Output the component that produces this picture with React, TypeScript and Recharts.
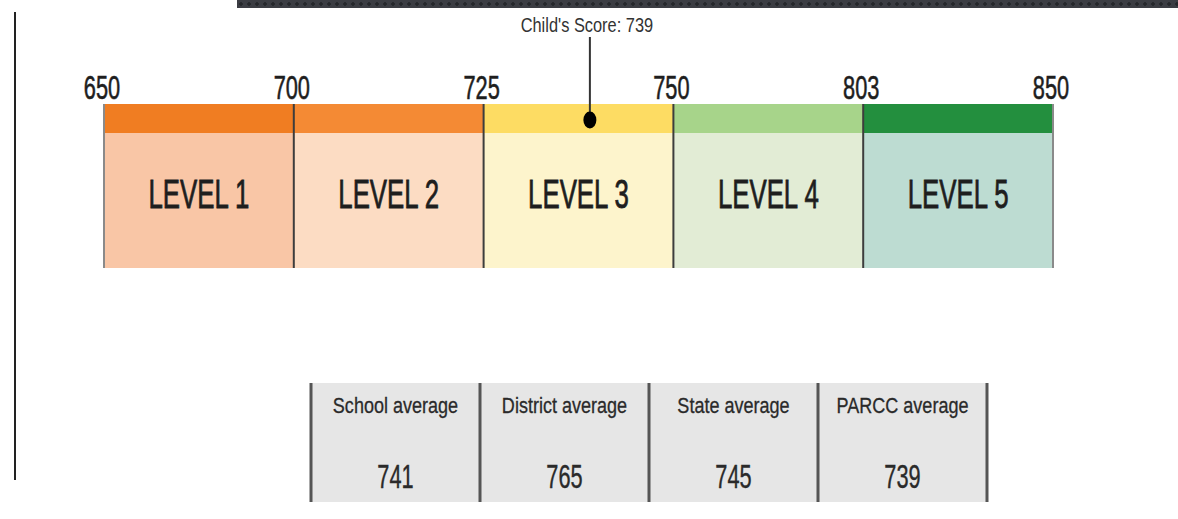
import { BarChart, Bar, XAxis, YAxis, ReferenceLine } from 'recharts';

// cut scores bounding each performance level (drawn as equal-width bands)
const cutScores = [650, 700, 725, 750, 803, 850];
const levelNames = ['LEVEL 1', 'LEVEL 2', 'LEVEL 3', 'LEVEL 4', 'LEVEL 5'];
const childScore = 739;

const averageLabels = ['School average', 'District average', 'State average', 'PARCC average'];
const averageValues = [741, 765, 745, 739];

const stripColors = ['#f07d22', '#f48a34', '#fddc63', '#a7d48a', '#238f3e'];
const bodyColors = ['#f9c6a6', '#fcdcc3', '#fdf4cc', '#e2ecd5', '#bddcd2'];

const FONT = '"Liberation Sans", Arial, sans-serif';

// each level takes one unit on the axis, so a score maps piecewise into its band
function bandPos(score: number) {
  for (let i = 0; i < cutScores.length - 1; i++) {
    if (score <= cutScores[i + 1]) {
      return i + (score - cutScores[i]) / (cutScores[i + 1] - cutScores[i]);
    }
  }
  return cutScores.length - 1;
}

const row: Record<string, string | number> = { name: 'scale' };
levelNames.forEach((_, i) => {
  row[`level${i}`] = 1;
});
const data = [row];

function SqueezedText({ x, y, size, sx, children, fill = '#1e1e1e', weight = 0 }: any) {
  return (
    <text
      transform={`translate(${x} ${y}) scale(${sx} 1)`}
      textAnchor="middle"
      fontFamily={FONT}
      fontSize={size}
      fill={fill}
      stroke={weight ? fill : 'none'}
      strokeWidth={weight}
    >
      {children}
    </text>
  );
}

function LevelShape(props: any) {
  const { x, y, width, height, level } = props;
  return (
    <g>
      <rect x={x} y={y} width={width} height={height} fill={bodyColors[level]} />
      <rect x={x} y={y} width={width} height={29} fill={stripColors[level]} />
      <SqueezedText x={x + width / 2} y={y + 104} size={40} sx={0.645} weight={0.8}>
        {levelNames[level]}
      </SqueezedText>
    </g>
  );
}

function CutLine(props: any) {
  const { x1, y1, y2, idx } = props;
  const top = Math.min(y1, y2);
  const bottom = Math.max(y1, y2);
  const edge = idx === 0 || idx === cutScores.length - 1;
  return (
    <g>
      <line x1={x1} x2={x1} y1={top} y2={bottom} stroke={edge ? '#8a8a8a' : '#3d3d3d'} strokeWidth={2} />
      <SqueezedText x={x1 - 2} y={top - 5} size={33} sx={0.66} weight={0.6}>
        {cutScores[idx]}
      </SqueezedText>
    </g>
  );
}

function ChildMarker(props: any) {
  const { x1, y1, y2 } = props;
  const top = Math.min(y1, y2);
  return (
    <g>
      <SqueezedText x={x1 - 3} y={top - 72} size={20} sx={0.82} fill="#333">
        {`Child's Score: ${childScore}`}
      </SqueezedText>
      <line x1={x1} x2={x1} y1={top - 67} y2={top + 14} stroke="#333" strokeWidth={2} />
      <ellipse cx={x1} cy={top + 16} rx={6.5} ry={8.5} fill="#000" />
    </g>
  );
}

function AveragesTable() {
  const left = 311;
  const top = 383;
  const colW = 169;
  const h = 119;
  return (
    <svg width={1178} height={519} style={{ position: 'absolute', left: 0, top: 0 }}>
      <rect x={left} y={top} width={colW * averageLabels.length} height={h} fill="#e6e6e6" />
      {averageLabels.map((label, i) => (
        <g key={label}>
          <line x1={left + i * colW} x2={left + i * colW} y1={top} y2={top + h} stroke="#555" strokeWidth={3} />
          <SqueezedText x={left + i * colW + colW / 2} y={top + 30} size={22} sx={0.82} fill="#2a2a2a" weight={0.3}>
            {label}
          </SqueezedText>
          <SqueezedText x={left + i * colW + colW / 2} y={top + 105} size={34} sx={0.64} fill="#2a2a2a" weight={0.4}>
            {averageValues[i]}
          </SqueezedText>
        </g>
      ))}
      <line
        x1={left + colW * averageLabels.length}
        x2={left + colW * averageLabels.length}
        y1={top}
        y2={top + h}
        stroke="#555"
        strokeWidth={3}
      />
    </svg>
  );
}

export default function App() {
  return (
    <div style={{ position: 'absolute', left: 0, top: 0, width: 1178, height: 519, background: '#fff', overflow: 'hidden' }}>
      {/* bits of the surrounding report page */}
      <div
        style={{
          position: 'absolute',
          left: 237,
          top: 0,
          width: 941,
          height: 8,
          background: '#3b3d43',
          backgroundImage: 'radial-gradient(circle, #25272b 1.5px, transparent 2px)',
          backgroundSize: '8px 8px',
        }}
      />
      <div style={{ position: 'absolute', left: 14, top: 12, width: 2, height: 468, background: '#222' }} />

      <div style={{ position: 'absolute', left: 0, top: 0 }}>
        <BarChart
          width={1178}
          height={519}
          data={data}
          layout="vertical"
          barCategoryGap={0}
          margin={{ top: 104, right: 125, bottom: 251, left: 104 }}
        >
          <XAxis type="number" domain={[0, levelNames.length]} hide />
          <YAxis type="category" dataKey="name" hide />
          {levelNames.map((_, i) => (
            <Bar
              key={i}
              dataKey={`level${i}`}
              stackId="s"
              isAnimationActive={false}
              shape={(p: any) => <LevelShape {...p} level={i} />}
            />
          ))}
          {cutScores.map((s, i) => (
            <ReferenceLine key={s} x={i} ifOverflow="visible" shape={(p: any) => <CutLine {...p} idx={i} />} />
          ))}
          <ReferenceLine x={bandPos(childScore)} ifOverflow="visible" shape={(p: any) => <ChildMarker {...p} />} />
        </BarChart>
      </div>

      <AveragesTable />
    </div>
  );
}
